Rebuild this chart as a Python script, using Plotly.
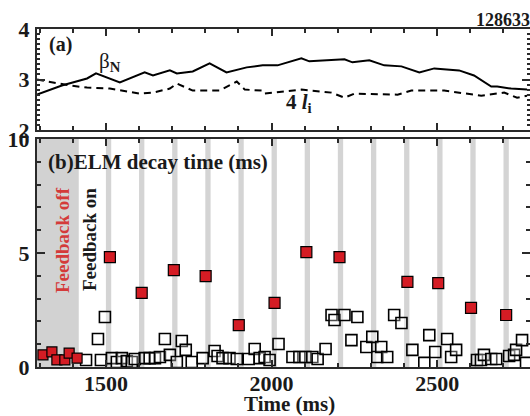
import plotly.graph_objects as go

# ---- Panel (a) data ----
beta_t = [1292, 1367, 1443, 1470, 1542, 1617, 1642, 1693, 1714, 1762, 1813, 1864, 1925, 1973,
          2018, 2090, 2114, 2220, 2244, 2295, 2340, 2392, 2446, 2491, 2566, 2611, 2663, 2681, 2723, 2771]
beta_n = [2.70, 2.88, 3.02, 3.12, 2.94, 3.14, 3.08, 3.18, 3.12, 3.16, 3.32, 3.14, 3.24, 3.28,
          3.28, 3.42, 3.36, 3.40, 3.34, 3.38, 3.28, 3.26, 3.14, 3.22, 3.18, 3.08, 2.86, 2.86, 2.82, 2.80]
li_t = [1292, 1346, 1392, 1443, 1512, 1602, 1642, 1693, 1714, 1762, 1843, 1895, 1919, 1973,
        1979, 2090, 2181, 2220, 2250, 2380, 2422, 2521, 2633, 2702, 2741, 2771]
li4 = [3.00, 2.94, 2.88, 2.84, 2.82, 2.72, 2.74, 2.82, 2.92, 2.78, 2.78, 2.96, 2.80, 2.78,
       2.72, 2.80, 2.74, 2.64, 2.72, 2.70, 2.78, 2.78, 2.68, 2.74, 2.64, 2.68]

# ---- Panel (b) data ----
off_t = [1310, 1337, 1352, 1376, 1389, 1413]
off_v = [0.53, 0.66, 0.31, 0.31, 0.61, 0.39]
trig_t = [1512, 1608, 1705, 1801, 1901, 2009, 2105, 2205, 2410, 2503, 2602, 2708]
trig_v = [4.82, 3.25, 4.25, 3.99, 1.84, 2.81, 5.04, 4.82, 3.73, 3.68, 2.59, 2.28]
nat_t = [1440, 1485, 1497, 1476, 1518, 1533, 1548, 1563, 1578, 1587, 1617, 1632, 1648, 1663,
         1678, 1693, 1714, 1729, 1741, 1759, 1792, 1828, 1837, 1852, 1873, 1895, 1931, 1949,
         1964, 1979, 1994, 2021, 2063, 2084, 2102, 2123, 2139, 2163, 2181, 2190, 2220, 2259,
         2241, 2286, 2304, 2319, 2331, 2349, 2370, 2392, 2425, 2461, 2476, 2494, 2530, 2542,
         2557, 2620, 2632, 2641, 2663, 2678, 2717, 2732, 2738, 2756, 2768]
nat_v = [0.31, 0.31, 2.19, 1.23, 0.39, 0.22, 0.39, 0.26, 0.22, 0.35, 0.39, 0.39, 0.39, 0.44,
         1.23, 0.53, 0.22, 1.14, 0.75, 0.22, 0.39, 0.70, 0.48, 0.39, 0.39, 0.35, 0.35, 0.79,
         0.39, 0.44, 0.31, 1.01, 0.44, 0.44, 0.44, 0.44, 0.35, 0.79, 2.28, 2.06, 2.28, 2.19,
         1.18, 0.88, 1.32, 0.44, 0.88, 0.44, 2.28, 1.93, 0.75, 0.18, 1.40, 0.66, 1.23, 0.44,
         0.75, 0.31, 0.31, 0.53, 0.35, 0.35, 0.48, 0.53, 0.75, 1.18, 0.18]
band_centers = [1508, 1608, 1708, 1808, 1908, 2008, 2108, 2208, 2308, 2408, 2508, 2608, 2708]
band_width = 16
feedback_off_end = 1418
x_range = [1292, 2780]

SERIF = "Liberation Serif"
AX = "#2a2a2a"
TXT = "#1a1a1a"

# layout geometry (pixels)
L, R, T, B = 37, 0, 29, 49
W, H = 530, 416
PW, PH = W - L - R, H - T - B


def px(x):
    return (x - L) / PW


def py(y):
    return (H - B - y) / PH


fig = go.Figure()

fig.add_trace(go.Scatter(x=beta_t, y=beta_n, mode="lines", line=dict(color="black", width=2),
                         xaxis="x2", yaxis="y2", showlegend=False))
fig.add_trace(go.Scatter(x=li_t, y=li4, mode="lines", line=dict(color="black", width=2, dash="7px,5px"),
                         xaxis="x2", yaxis="y2", showlegend=False))

fig.add_trace(go.Scatter(x=nat_t, y=nat_v, mode="markers",
                         marker=dict(symbol="square", size=11, color="rgba(255,255,255,0.3)",
                                     line=dict(color="black", width=1.6)),
                         xaxis="x", yaxis="y", showlegend=False))
fig.add_trace(go.Scatter(x=off_t, y=off_v, mode="markers",
                         marker=dict(symbol="square", size=10, color="#d41c24",
                                     line=dict(color="black", width=1.2)),
                         xaxis="x", yaxis="y", showlegend=False))
fig.add_trace(go.Scatter(x=trig_t, y=trig_v, mode="markers",
                         marker=dict(symbol="square", size=11, color="#d41c24",
                                     line=dict(color="black", width=1.2)),
                         xaxis="x", yaxis="y", showlegend=False))

shapes = [dict(type="rect", xref="x", yref="y", x0=x_range[0], x1=feedback_off_end, y0=0, y1=10,
               fillcolor="#d2d2d2", line=dict(width=0), layer="below")]
for c in band_centers:
    shapes.append(dict(type="rect", xref="x", yref="y", x0=c - band_width / 2, x1=c + band_width / 2,
                       y0=0, y1=10, fillcolor="#d4d4d4", line=dict(width=0), layer="below"))

tick_font = dict(family=SERIF, size=22, color=TXT, weight="bold")

common_x = dict(range=x_range, ticks="inside", mirror="allticks", showline=True, linewidth=2,
                linecolor=AX, tickcolor=AX, ticklen=7, tickwidth=1.5, showgrid=False, zeroline=False,
                tick0=1500, dtick=500, automargin=False,
                minor=dict(dtick=100, tick0=1300, ticks="inside", ticklen=4, tickcolor=AX, showgrid=False))

fig.update_layout(
    width=W, height=H,
    margin=dict(l=L, r=R, t=T, b=B),
    paper_bgcolor="white", plot_bgcolor="white",
    shapes=shapes,
    xaxis=dict(**common_x, anchor="y", tickfont=tick_font, ticklabelstandoff=-4),
    yaxis=dict(domain=[0, 0.6746], range=[0, 10], tick0=0, dtick=5, ticks="inside", mirror="allticks",
               showline=True, linewidth=2, linecolor=AX, tickcolor=AX, ticklen=8, tickwidth=1.5,
               showgrid=False, zeroline=False, tickfont=tick_font, ticklabelstandoff=1, automargin=False,
               minor=dict(dtick=1, ticks="inside", ticklen=4, tickcolor=AX, showgrid=False)),
    xaxis2=dict(**common_x, anchor="y2", matches="x", showticklabels=False),
    yaxis2=dict(domain=[0.7012, 1], range=[2, 4], tick0=2, dtick=1, ticks="inside", mirror="allticks",
                showline=True, linewidth=2, linecolor=AX, tickcolor=AX, ticklen=8, tickwidth=1.5,
                showgrid=False, zeroline=False, tickfont=tick_font, ticklabelstandoff=1, automargin=False,
                minor=dict(dtick=0.1, ticks="inside", ticklen=3, tickcolor=AX, showgrid=False)),
)

ann_font = dict(family=SERIF, color=TXT, weight="bold")
fig.add_annotation(text="Time (ms)", xref="paper", yref="paper", x=px(289), y=py(404),
                   xanchor="center", yanchor="middle", showarrow=False, font=dict(**ann_font, size=21))
fig.add_annotation(text="(a)", xref="paper", yref="paper", x=px(47), y=py(44),
                   xanchor="left", yanchor="middle", showarrow=False, font=dict(**ann_font, size=20))
fig.add_annotation(text="β<sub><b>N</b></sub>", xref="paper", yref="paper", x=px(97), y=py(62),
                   xanchor="left", yanchor="middle", showarrow=False,
                   font=dict(family=SERIF, color=TXT, size=21))
fig.add_annotation(text="4 <i>l</i><sub>i</sub>", xref="paper", yref="paper", x=px(284), y=py(103),
                   xanchor="left", yanchor="middle", showarrow=False, font=dict(**ann_font, size=21))
fig.add_annotation(text="128633", xref="paper", yref="paper", x=px(474), y=py(20),
                   xanchor="left", yanchor="middle", showarrow=False, font=dict(**ann_font, size=18))
fig.add_annotation(text="(b)ELM decay time (ms)", xref="paper", yref="paper", x=px(46), y=py(162),
                   xanchor="left", yanchor="middle", showarrow=False, font=dict(**ann_font, size=21))
fig.add_annotation(text="Feedback off", xref="paper", yref="paper", x=px(62), y=py(240),
                   xanchor="center", yanchor="middle", textangle=-90, showarrow=False,
                   font=dict(family=SERIF, color="#d43a3a", weight="bold", size=19))
fig.add_annotation(text="Feedback on", xref="paper", yref="paper", x=px(89), y=py(240),
                   xanchor="center", yanchor="middle", textangle=-90, showarrow=False,
                   font=dict(**ann_font, size=19))

fig.write_html("out.html", config={"displayModeBar": False},
               post_script="document.body.style.margin='0';document.body.style.padding='0';")
